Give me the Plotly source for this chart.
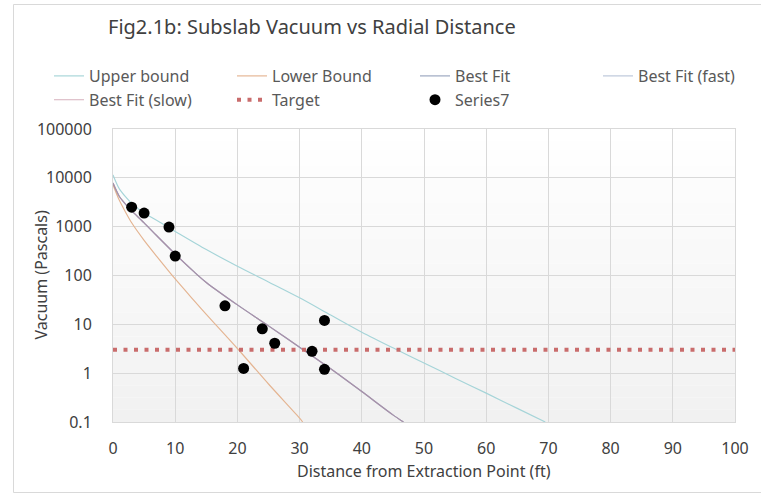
import plotly.graph_objects as go

# ---------------- data ----------------
upper_x = [0, 1, 2, 3, 5, 7, 10, 15, 20, 25, 30, 35, 40, 45, 50, 55, 60, 65, 69.5]
upper_y = [11500, 6000, 4100, 3000, 1900, 1350, 800, 340, 155, 74, 35, 15.5, 6.9, 3.3, 1.62, 0.79, 0.39, 0.19, 0.1]

lower_x = [0, 1, 2, 3, 5, 7, 10, 13, 15, 20, 25, 30, 30.5]
lower_y = [7200, 3500, 2000, 1200, 525, 250, 85, 31, 16, 3.2, 0.6, 0.12, 0.1]

fit_x = [0, 1, 2, 3, 5, 7, 10, 13, 15, 20, 25, 30, 35, 40, 45, 46.7]
fit_y = [7800, 4200, 2900, 2100, 1200, 660, 275, 120, 72, 25, 9.3, 3.4, 1.23, 0.42, 0.14, 0.1]
fit_fast_y = [7800, 4200, 2900, 2100, 1200, 660, 275, 120, 72, 25, 9.3, 3.4, 1.23, 0.42, 0.14, 0.1]
fit_slow_y = [7800, 4200, 2900, 2100, 1200, 660, 275, 120, 72, 25, 9.3, 3.4, 1.23, 0.42, 0.14, 0.1]

target_x = [0, 100]
target_y = [3, 3]

obs_x = [3, 5, 9, 10, 18, 24, 26, 32, 34, 21, 34]
obs_y = [2500, 1900, 980, 250, 24, 8.1, 4.1, 2.8, 12, 1.25, 1.2]

x_ticks = [0, 10, 20, 30, 40, 50, 60, 70, 80, 90, 100]
y_ticks = [0.1, 1, 10, 100, 1000, 10000, 100000]
y_ticktext = ["0.1", "1", "10", "100", "1000", "10000", "100000"]

title_text = "Fig2.1b: Subslab Vacuum vs Radial Distance"
x_title = "Distance from Extraction Point (ft)"
y_title = "Vacuum (Pascals)"

# ---------------- figure ----------------
FONT = "Noto Sans"
W, H = 761, 494
ML, MR, MT, MB = 113, 26, 129, 72
PW = W - ML - MR
PH = H - MT - MB


def px_x(p):
    return (p - ML) / PW


def px_y(p):
    return (H - MB - p) / PH


fig = go.Figure()

fig.add_trace(go.Scatter(x=upper_x, y=upper_y, mode="lines", name="Upper bound",
                         line=dict(color="#a5d4d8", width=1.15, shape="spline", smoothing=0.8)))
fig.add_trace(go.Scatter(x=lower_x, y=lower_y, mode="lines", name="Lower Bound",
                         line=dict(color="#e4b491", width=1.15, shape="spline", smoothing=0.8)))
fig.add_trace(go.Scatter(x=fit_x, y=fit_y, mode="lines", name="Best Fit",
                         line=dict(color="rgba(120,135,170,0.75)", width=1.15, shape="spline", smoothing=0.8)))
fig.add_trace(go.Scatter(x=fit_x, y=fit_fast_y, mode="lines", name="Best Fit (fast)",
                         line=dict(color="rgba(140,160,190,0.6)", width=1.15, shape="spline", smoothing=0.8)))
fig.add_trace(go.Scatter(x=fit_x, y=fit_slow_y, mode="lines", name="Best Fit (slow)",
                         line=dict(color="rgba(190,130,150,0.55)", width=1.15, shape="spline", smoothing=0.8)))
fig.add_trace(go.Scatter(x=target_x, y=target_y, mode="lines", name="Target",
                         line=dict(color="#c96c6c", width=4, dash="4px,6.5px")))
fig.add_trace(go.Scatter(x=obs_x, y=obs_y, mode="markers", name="Series7",
                         marker=dict(color="black", size=11, line=dict(width=0))))

# plot-area vertical gradient (white -> light grey)
shapes = []
n = 24
for i in range(n):
    t = (i + 0.5) / n
    c = int(round(255 - 14 * t))
    shapes.append(dict(type="rect", xref="x domain", yref="y domain",
                       x0=0, x1=1, y0=1 - (i + 1) / n, y1=1 - i / n,
                       fillcolor=f"rgb({c},{c},{c})", line=dict(width=0), layer="below"))
# outer chart frame
shapes.append(dict(type="rect", xref="paper", yref="paper",
                   x0=px_x(13.5), x1=px_x(775), y0=px_y(492.5), y1=px_y(4.5),
                   line=dict(color="#d9d9d9", width=1), fillcolor="rgba(0,0,0,0)", layer="above"))

annotations = [
    dict(text=title_text, xref="paper", yref="paper", x=px_x(106), y=px_y(27),
         xanchor="left", yanchor="middle", showarrow=False,
         font=dict(family=FONT, size=20, color="#404040")),
    dict(text=x_title, xref="paper", yref="paper", x=px_x(424), y=px_y(471),
         xanchor="center", yanchor="middle", showarrow=False,
         font=dict(family=FONT, size=16, color="#404040")),
    dict(text=y_title, xref="paper", yref="paper", x=px_x(40), y=0.5, textangle=-90,
         xanchor="center", yanchor="middle", showarrow=False,
         font=dict(family=FONT, size=16, color="#404040")),
]

fig.update_layout(
    width=W, height=H,
    margin=dict(l=ML, r=MR, t=MT, b=MB, autoexpand=False),
    paper_bgcolor="white", plot_bgcolor="white",
    font=dict(family=FONT, size=16, color="#404040"),
    showlegend=True,
    legend=dict(orientation="h", x=px_x(49), y=px_y(59), xanchor="left", yanchor="top",
                entrywidth=138, entrywidthmode="pixels", bgcolor="rgba(0,0,0,0)",
                font=dict(family=FONT, size=16, color="#595959"), traceorder="normal"),
    shapes=shapes,
    annotations=annotations,
    xaxis=dict(range=[0, 100], tickvals=x_ticks, showgrid=True, gridcolor="#d9d9d9", gridwidth=1,
               showline=True, linecolor="#d9d9d9", linewidth=1, mirror=True, zeroline=False,
               ticks="", ticklabelstandoff=12, tickfont=dict(family=FONT, size=16, color="#404040")),
    yaxis=dict(type="log", range=[-1, 5], tickvals=y_ticks, ticktext=y_ticktext,
               showgrid=True, gridcolor="#d9d9d9", gridwidth=1,
               showline=True, linecolor="#d9d9d9", linewidth=1, mirror=True, zeroline=False,
               ticks="", ticklabelstandoff=17, tickfont=dict(family=FONT, size=16, color="#404040")),
)

fig.write_html("out.html")
